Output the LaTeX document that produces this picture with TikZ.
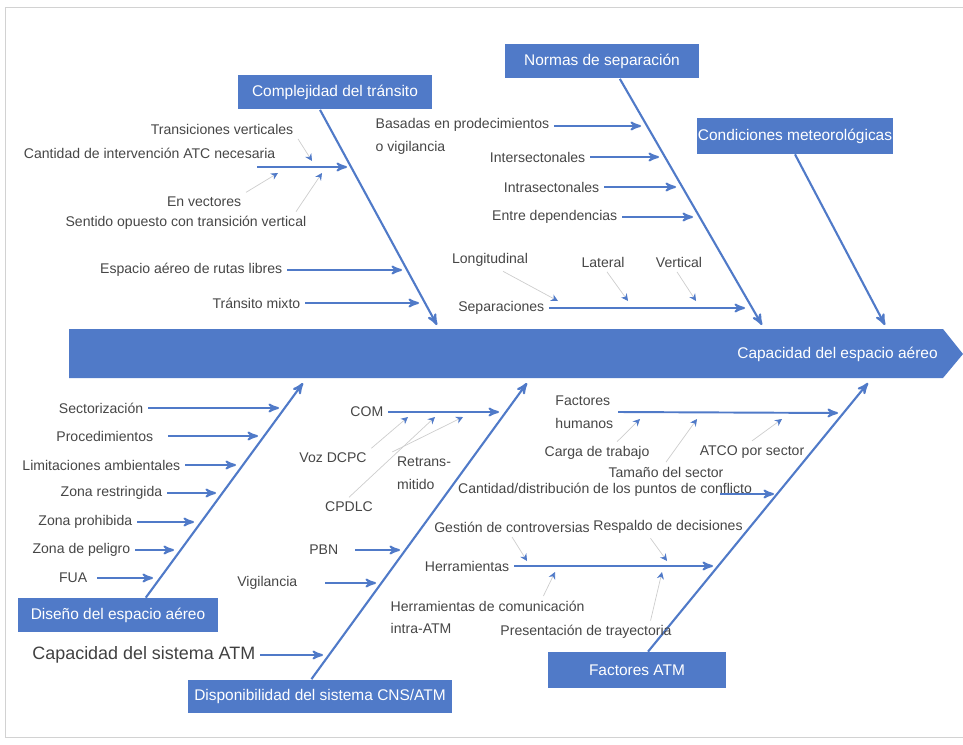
\documentclass[tikz,border=0pt]{standalone}
\usepackage{fontspec}
\setmainfont{Liberation Sans}
\usetikzlibrary{arrows,arrows.meta}

\definecolor{fishblue}{RGB}{80,122,200}
\definecolor{labelgray}{RGB}{70,70,70}
\definecolor{hintgray}{RGB}{205,205,205}

\begin{document}
\begin{tikzpicture}[x=0.02cm,y=-0.02cm,>=stealth',
  cause/.style={fill=fishblue,text=white,font=\fontsize{8.8}{11}\selectfont,inner sep=0pt},
  item/.style={text=labelgray,font=\fontsize{8}{13}\selectfont,inner sep=2.5pt},
  bone/.style={->,draw=fishblue,line width=1.2pt},
  twig/.style={->,draw=fishblue,line width=1.1pt},
  hint/.style={-{Stealth[length=4pt,width=4pt,color=fishblue]},draw=hintgray,line width=0.4pt}]

  \useasboundingbox (0,0) rectangle (963,744);
  \draw[gray!35] (963,7) -- (5,7) -- (5,737) -- (963,737);

  % spine
  \fill[fishblue] (69,329) -- (943,329) -- (963,354) -- (943,378) -- (69,378) -- cycle;
  \node[cause,anchor=east] (effect) at (938,354) {Capacidad del espacio aéreo};

  % causes
  \node[cause,minimum width=3.88cm,minimum height=0.7cm] (comp) at (335,92) {Complejidad del tránsito};
  \node[cause,minimum width=3.9cm,minimum height=0.7cm] (normas) at (602,61) {Normas de separación};
  \node[cause,minimum width=3.92cm,minimum height=0.72cm] (meteo) at (795,136) {Condiciones meteorológicas};
  \node[cause,minimum width=4cm,minimum height=0.68cm] (diseno) at (118,615) {Diseño del espacio aéreo};
  \node[cause,minimum width=5.3cm,minimum height=0.66cm] (cns) at (320,696) {Disponibilidad del sistema CNS/ATM};
  \node[cause,minimum width=3.58cm,minimum height=0.72cm] (atm) at (637,670) {Factores ATM};

  \coordinate (b1) at (437,325); \coordinate (b2) at (762,325); \coordinate (b3) at (885,325);
  \coordinate (b4) at (303,383); \coordinate (b5) at (527,383); \coordinate (b6) at (868,383);
  \draw[bone] (comp.230) -- (b1);
  \draw[bone] (normas.-45) -- (b2);
  \draw[bone] (meteo.south) -- (b3);
  \draw[bone] (diseno.32) -- (b4);
  \draw[bone] (cns.117) -- (b5);
  \draw[bone] (atm.59) -- (b6);

  % complejidad del transito
  \node[item,anchor=east] (tv) at (298,129) {Transiciones verticales};
  \node[item,anchor=east] (cat) at (280,153) {Cantidad de intervención ATC necesaria};
  \node[item,anchor=east] (env) at (246,202) {En vectores};
  \node[item,anchor=east] (sen) at (311,223) {Sentido opuesto con transición vertical};
  \node[item,anchor=east] (ear) at (287,270) {Espacio aéreo de rutas libres};
  \node[item,anchor=east] (tm) at (305,303) {Tránsito mixto};
  \coordinate (k0) at (257,167); \coordinate (k1) at (347,167);
  \coordinate (k2) at (402,270); \coordinate (k3) at (419,303);
  \draw[twig] (k0) -- (k1);
  \draw[twig] (ear.east) -- (k2);
  \draw[twig] (tm.east) -- (k3);
  \coordinate (h1) at (312,161); \coordinate (h2) at (278,173); \coordinate (h3) at (322,173);
  \draw[hint] (tv.south east) -- (h1);
  \draw[hint] (env.north east) -- (h2);
  \draw[hint] ([xshift=-0.3cm]sen.north east) -- (h3);

  % normas de separacion
  \node[item,anchor=west,align=left] (bas) at (371,136) {Basadas en prodecimientos\\o vigilancia};
  \node[item,anchor=east] (ints) at (590,157) {Intersectonales};
  \node[item,anchor=east] (intr) at (604,187) {Intrasectonales};
  \node[item,anchor=east] (ent) at (622,217) {Entre dependencias};
  \node[item] (lon) at (490,260) {Longitudinal};
  \node[item] (lat) at (603,262) {Lateral};
  \node[item] (ver) at (679,262) {Vertical};
  \node[item,anchor=east] (sep) at (549,308) {Separaciones};
  \coordinate (k4) at (641,126); \coordinate (k5) at (659,157); \coordinate (k6) at (676,187);
  \coordinate (k7) at (693,217); \coordinate (k8) at (745,308);
  \draw[twig] (bas.east |- k4) -- (k4);
  \draw[twig] (ints.east) -- (k5);
  \draw[twig] (intr.east) -- (k6);
  \draw[twig] (ent.east) -- (k7);
  \draw[twig] (sep.east) -- (k8);
  \coordinate (h4) at (558,301); \coordinate (h5) at (628,301); \coordinate (h6) at (696,301);
  \draw[hint] ([xshift=0.26cm]lon.south) -- (h4);
  \draw[hint] ([xshift=0.08cm]lat.south) -- (h5);
  \draw[hint] ([xshift=-0.04cm]ver.south) -- (h6);

  % diseno del espacio aereo
  \node[item,anchor=east] (sec) at (148,408) {Sectorización};
  \node[item,anchor=east] (pro) at (158,436) {Procedimientos};
  \node[item,anchor=east] (lim) at (185,465) {Limitaciones ambientales};
  \node[item,anchor=east] (zr) at (167,493) {Zona restringida};
  \node[item,anchor=east] (zp) at (137,522) {Zona prohibida};
  \node[item,anchor=east] (zdp) at (135,550) {Zona de peligro};
  \node[item,anchor=east] (fua) at (92,578) {FUA};
  \coordinate (d1) at (279,408); \coordinate (d2) at (258,436); \coordinate (d3) at (236,465);
  \coordinate (d4) at (216,493); \coordinate (d5) at (194,522); \coordinate (d6) at (174,550);
  \coordinate (d7) at (153,578);
  \draw[twig] (sec.east) -- (d1);
  \draw[twig] ([xshift=0.2cm]pro.east) -- (d2);
  \draw[twig] (lim.east) -- (d3);
  \draw[twig] (zr.east) -- (d4);
  \draw[twig] (zp.east) -- (d5);
  \draw[twig] (zdp.east) -- (d6);
  \draw[twig] ([xshift=0.1cm]fua.east) -- (d7);

  % disponibilidad del sistema CNS/ATM
  \node[item,anchor=east] (com) at (388,412) {COM};
  \node[item] (voz) at (333,458) {Voz DCPC};
  \node[item] (cpd) at (349,507) {CPDLC};
  \node[item,align=left] (ret) at (424,473) {Retrans-\\mitido};
  \node[item,anchor=east] (pbn) at (343,550) {PBN};
  \node[item,anchor=east] (vig) at (302,583) {Vigilancia};
  \node[item,anchor=east,font=\fontsize{10.2}{12}\selectfont,text=black!75] (cap) at (260,655) {Capacidad del sistema ATM};
  \coordinate (e1) at (499,412); \coordinate (e2) at (400,550); \coordinate (e3) at (376,583);
  \coordinate (e4) at (323,655);
  \draw[twig] (com.east) -- (e1);
  \draw[twig] ([xshift=0.24cm]pbn.east) -- (e2);
  \draw[twig] ([xshift=0.46cm]vig.east) -- (e3);
  \draw[twig] (cap.east) -- (e4);
  \coordinate (h7) at (408,417); \coordinate (h8) at (435,417); \coordinate (h9) at (463,417);
  \draw[hint] (voz.north east) -- (h7);
  \draw[hint] (cpd.north) -- (h8);
  \draw[hint] (ret.north west) -- (h9);

  % factores ATM
  \node[item,anchor=east,align=left] (fh) at (618,412) {Factores\\humanos};
  \node[item] (car) at (597,453) {Carga de trabajo};
  \node[item] (tam) at (666,472) {Tamaño del sector};
  \node[item] (atco) at (752,452) {ATCO por sector};
  \node[item] (cdp) at (605,490) {Cantidad/distribución de los puntos de conflicto};
  \node[item] (ges) at (512,527) {Gestión de controversias};
  \node[item] (res) at (668,527) {Respaldo de decisiones};
  \node[item,anchor=east] (herr) at (514,566) {Herramientas};
  \node[item,anchor=north west,align=left] (hdc) at (386,596) {Herramientas de comunicación\\intra-ATM};
  \node[item] (pre) at (586,632) {Presentación de trayectoria};
  \coordinate (f0) at (720,494);
  \coordinate (f1) at (838,413); \coordinate (f2) at (774,494); \coordinate (f3) at (713,566);
  \draw[twig] (fh.east) -- (f1);
  \draw[twig] (f0) -- (f2);
  \draw[twig] (herr.east) -- (f3);
  \coordinate (h10) at (640,419); \coordinate (h11) at (697,419); \coordinate (h12) at (782,419);
  \coordinate (h13) at (527,561); \coordinate (h14) at (667,561);
  \coordinate (h15) at (555,572); \coordinate (h16) at (662,572);
  \draw[hint] ([xshift=0.4cm]car.north) -- (h10);
  \draw[hint] (tam.north) -- (h11);
  \draw[hint] (atco.north) -- (h12);
  \draw[hint] (ges.south) -- (h13);
  \draw[hint] ([xshift=-0.35cm]res.south) -- (h14);
  \draw[hint] (hdc.21) -- (h15);
  \draw[hint] (pre.10) -- (h16);

\end{tikzpicture}
\end{document}
